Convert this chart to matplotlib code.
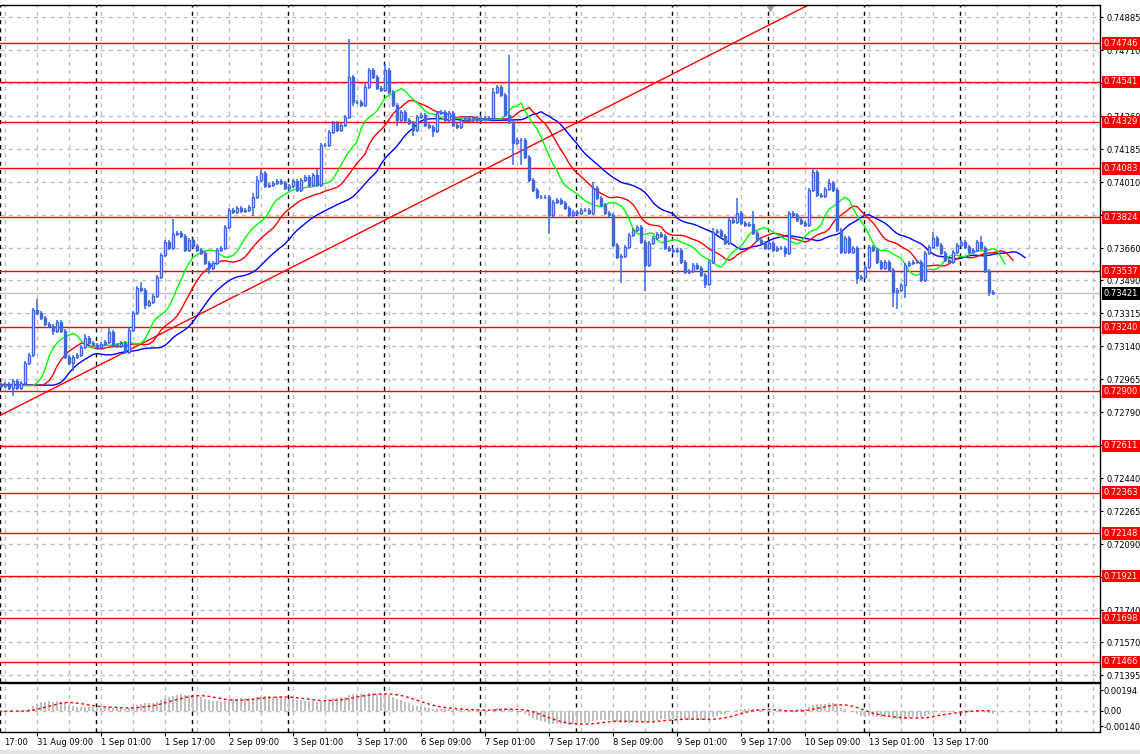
import matplotlib
matplotlib.use("Agg")
import matplotlib.pyplot as plt
import matplotlib.transforms as mtransforms
import numpy as np
import pandas as pd

plt.rcParams['font.family'] = ['DejaVu Sans']

# ---- data (H1 bars, 31 Aug 00:00 .. 14 Sep 08:00) ----
pre_close = [0.72940, 0.72935, 0.72930, 0.72925, 0.72930, 0.72935,
             0.72930, 0.72925, 0.72930, 0.72935, 0.72930, 0.72932]
first_open = 0.72935

close = [
    0.72929, 0.72940, 0.72918, 0.72955, 0.72918, 0.72945, 0.73051, 0.73093, 0.73332, 0.73316, 0.73290, 0.73258,
    0.73247, 0.73221, 0.73269, 0.73221, 0.73083, 0.73051, 0.73083, 0.73093, 0.73136, 0.73184, 0.73157, 0.73146,
    0.73136, 0.73152, 0.73162, 0.73215, 0.73146, 0.73141, 0.73157, 0.73109, 0.73226, 0.73316, 0.73449, 0.73438,
    0.73359, 0.73374, 0.73406, 0.73507, 0.73624, 0.73693, 0.73661, 0.73735, 0.73740, 0.73724, 0.73650, 0.73703,
    0.73671, 0.73650, 0.73634, 0.73581, 0.73555, 0.73581, 0.73650, 0.73661, 0.73772, 0.73862, 0.73851, 0.73873,
    0.73857, 0.73862, 0.73878, 0.73931, 0.74021, 0.74058, 0.73989, 0.73995, 0.74005, 0.74016, 0.74005, 0.73979,
    0.73989, 0.74016, 0.73968, 0.74021, 0.74037, 0.73995, 0.74048, 0.73995, 0.74207, 0.74207, 0.74276, 0.74324,
    0.74286, 0.74313, 0.74355, 0.74567, 0.74435, 0.74435, 0.74419, 0.74514, 0.74604, 0.74567, 0.74509, 0.74498,
    0.74604, 0.74488, 0.74419, 0.74339, 0.74382, 0.74339, 0.74324, 0.74286, 0.74355, 0.74366, 0.74313, 0.74302,
    0.74281, 0.74376, 0.74382, 0.74339, 0.74376, 0.74313, 0.74302, 0.74339, 0.74350, 0.74339, 0.74350, 0.74339,
    0.74350, 0.74345, 0.74350, 0.74488, 0.74514, 0.74472, 0.74366, 0.74329, 0.74218, 0.74233, 0.74233, 0.74143,
    0.74021, 0.73968, 0.73931, 0.73931, 0.73931, 0.73836, 0.73904, 0.73915, 0.73899, 0.73873, 0.73836, 0.73851,
    0.73846, 0.73862, 0.73862, 0.73846, 0.73979, 0.73926, 0.73889, 0.73846, 0.73836, 0.73677, 0.73613, 0.73618,
    0.73666, 0.73730, 0.73756, 0.73772, 0.73693, 0.73571, 0.73687, 0.73714, 0.73735, 0.73724, 0.73661, 0.73650,
    0.73645, 0.73650, 0.73587, 0.73534, 0.73539, 0.73571, 0.73555, 0.73518, 0.73470, 0.73587, 0.73746, 0.73751,
    0.73724, 0.73687, 0.73809, 0.73799, 0.73846, 0.73793, 0.73783, 0.73788, 0.73740, 0.73703, 0.73687, 0.73661,
    0.73687, 0.73650, 0.73661, 0.73661, 0.73634, 0.73846, 0.73836, 0.73809, 0.73793, 0.73783, 0.73968, 0.74064,
    0.73942, 0.73936, 0.73974, 0.74005, 0.73968, 0.73756, 0.73640, 0.73714, 0.73640, 0.73661, 0.73502, 0.73507,
    0.73560, 0.73666, 0.73650, 0.73587, 0.73555, 0.73587, 0.73544, 0.73427, 0.73438, 0.73465, 0.73571, 0.73581,
    0.73587, 0.73587, 0.73491, 0.73634, 0.73666, 0.73714, 0.73677, 0.73634, 0.73597, 0.73587, 0.73640, 0.73677,
    0.73693, 0.73666, 0.73640, 0.73650, 0.73693, 0.73661, 0.73539, 0.73427, 0.73421,
]

# wick lengths above / below the body, in pips
wick_up = [
    1, 1, 1, 1, 1, 1, 1, 1, 1, 6, 1, 1,
    1, 1, 1, 1, 1, 1, 1, 1, 1, 2, 1, 1,
    1, 1, 1, 2, 1, 1, 1, 1, 1, 1, 1, 3,
    1, 1, 1, 1, 1, 1, 1, 8, 1, 1, 1, 1,
    1, 1, 1, 1, 1, 1, 1, 1, 1, 1, 1, 1,
    1, 1, 1, 2, 2, 2, 1, 1, 1, 1, 1, 1,
    1, 1, 1, 1, 1, 1, 1, 3, 1, 1, 1, 1,
    1, 1, 1, 20, 1, 1, 1, 2, 1, 1, 1, 1,
    3, 1, 1, 1, 1, 1, 1, 1, 1, 1, 1, 1,
    1, 1, 1, 1, 1, 1, 1, 1, 1, 1, 1, 1,
    1, 1, 1, 2, 1, 1, 1, 32, 1, 1, 1, 1,
    1, 1, 1, 1, 1, 1, 1, 1, 1, 1, 1, 1,
    1, 1, 1, 1, 3, 1, 1, 1, 1, 1, 1, 1,
    1, 1, 1, 1, 1, 1, 1, 1, 1, 1, 1, 1,
    1, 1, 1, 1, 1, 1, 1, 1, 1, 1, 2, 1,
    1, 1, 1, 1, 8, 1, 1, 1, 7, 1, 1, 1,
    1, 1, 1, 1, 1, 1, 1, 1, 1, 1, 1, 2,
    1, 1, 1, 2, 1, 1, 1, 1, 1, 1, 1, 1,
    1, 1, 1, 1, 1, 1, 1, 1, 1, 1, 1, 1,
    1, 1, 1, 1, 1, 3, 1, 1, 1, 1, 1, 1,
    1, 1, 1, 1, 1, 3, 1, 1, 1,
]
wick_dn = [
    1, 1, 1, 4, 1, 1, 1, 1, 1, 1, 1, 1,
    1, 2, 1, 1, 1, 1, 4, 1, 1, 1, 1, 1,
    1, 1, 1, 1, 1, 1, 1, 1, 1, 1, 1, 1,
    2, 1, 1, 1, 1, 1, 1, 1, 1, 1, 1, 1,
    1, 1, 1, 1, 3, 1, 1, 1, 1, 1, 1, 1,
    1, 1, 1, 5, 1, 1, 1, 1, 1, 1, 1, 1,
    1, 1, 1, 1, 1, 1, 1, 1, 1, 1, 1, 1,
    1, 1, 1, 1, 2, 1, 1, 1, 1, 1, 1, 1,
    1, 1, 1, 3, 1, 1, 1, 3, 1, 1, 1, 1,
    3, 1, 1, 1, 1, 1, 1, 1, 1, 1, 1, 1,
    1, 1, 1, 1, 1, 1, 1, 1, 12, 1, 13, 1,
    1, 1, 1, 1, 1, 10, 1, 1, 1, 1, 1, 1,
    1, 1, 1, 1, 1, 1, 1, 1, 1, 1, 1, 14,
    1, 1, 1, 1, 1, 14, 1, 1, 1, 1, 1, 1,
    1, 1, 1, 1, 1, 1, 1, 1, 2, 1, 1, 1,
    1, 1, 1, 1, 1, 1, 1, 1, 1, 1, 1, 1,
    1, 1, 1, 1, 2, 1, 1, 1, 1, 1, 1, 1,
    1, 1, 1, 1, 1, 1, 1, 1, 1, 1, 3, 1,
    1, 1, 1, 1, 1, 1, 1, 8, 9, 1, 7, 1,
    1, 1, 1, 1, 1, 1, 1, 1, 1, 1, 1, 1,
    1, 1, 1, 1, 1, 1, 1, 2, 1,
]

levels = [0.74746, 0.74541, 0.74329, 0.74083, 0.73824, 0.73537, 0.73240,
          0.72900, 0.72611, 0.72363, 0.72148, 0.71921, 0.71698, 0.71466]
price_ticks = [0.74885, 0.74710, 0.74535, 0.74360, 0.74185, 0.74010, 0.73835,
               0.73660, 0.73490, 0.73315, 0.73140, 0.72965, 0.72790, 0.72615,
               0.72440, 0.72265, 0.72090, 0.71915, 0.71740, 0.71570, 0.71395]
# tick labels that sit fully under a level box are left blank
hidden_ticks = [0.74535, 0.73835, 0.72615, 0.71915]
trend_bars = [0, 200]
trend_prices = [0.72775, 0.74929]
macd_ticks = [0.00194, 0.0, -0.00140]
macd_labels = ["0.00194", "0.00", "-0.00140"]

# ---- derived series ----
c = np.array(close)
o = np.concatenate([[first_open], c[:-1]])
hi = np.maximum(o, c) + np.array(wick_up) * 0.0001
lo = np.minimum(o, c) - np.array(wick_dn) * 0.0001
x = np.arange(len(c))
npre = len(pre_close)
x_all = np.arange(-npre, len(c))

median = pd.Series(np.concatenate([pre_close, (hi + lo) / 2]))
closes_all = pd.Series(np.concatenate([pre_close, c]))

def smma(s, n):
    return s.ewm(alpha=1.0 / n, adjust=False).mean()

jaw = smma(median, 13)
teeth = smma(median, 8)
lips = smma(median, 5)

macd = closes_all.ewm(span=12, adjust=False).mean() - closes_all.ewm(span=26, adjust=False).mean()
signal = macd.rolling(9, min_periods=1).mean()

# bar times
hours = pd.date_range("2021-08-30 00:00", periods=24 * 21, freq="h")
hours = hours[hours.weekday < 5]
pos0 = int(np.where(hours == pd.Timestamp("2021-08-31 00:00"))[0][0])
bar_time = {i - pos0: t for i, t in enumerate(hours)}

# ---- figure ----
W, H = 1140, 754
fig = plt.figure(figsize=(W / 100, H / 100), dpi=100)
fig.patch.set_facecolor('white')

def box(x0, y0, x1, y1):
    return [x0 / W, 1 - y1 / H, (x1 - x0) / W, (y1 - y0) / H]

ax = fig.add_axes(box(0, 5, 1100, 681.5))
axm = fig.add_axes(box(0, 683, 1100, 731.5), sharex=ax)

xlim = (-0.25, 274.75)
ax.set_xlim(*xlim)
ax.set_ylim(0.71362, 0.74949)
axm.set_ylim(-0.00191, 0.00259)

grid_c = '#C0C0C0'
dash = (0, (3, 3))
grid_bars = [b for b in range(1, 280, 8) if b < xlim[1]]
sep_bars = [b for b, t in bar_time.items() if t.hour == 0 and xlim[0] <= b <= xlim[1]]
for a in (ax, axm):
    for b in grid_bars:
        a.axvline(b, color=grid_c, lw=1, ls=dash, zorder=0)
    for b in sep_bars:
        a.axvline(b - 0.2, color='black', lw=1, ls=dash, zorder=0.5)
    for s in a.spines.values():
        s.set_color('black')
        s.set_linewidth(1)
    a.spines['left'].set_visible(False)

for p in price_ticks:
    ax.axhline(p, color=grid_c, lw=1, ls=dash, zorder=0)
axm.axhline(0, color=grid_c, lw=1, ls=dash, zorder=0)

# support / resistance levels and trend line
for lv in levels:
    ax.axhline(lv, color='#FF0000', lw=1, zorder=1)
ax.axline((trend_bars[0], trend_prices[0]), (trend_bars[1], trend_prices[1]),
          color='#FF0000', lw=1, zorder=1)
ax.axhline(c[-1], color='#C0C0C0', lw=1, zorder=1)

# alligator
ax.plot(x_all + 8, jaw, color='#0000FF', lw=1, zorder=2)
ax.plot(x_all + 5, teeth, color='#FF0000', lw=1, zorder=2)
ax.plot(x_all + 3, lips, color='#00FF00', lw=1, zorder=2)

# candles
cblue = '#3F67DE'
ax.vlines(x, lo, hi, color=cblue, lw=1.1, zorder=3)
up = c >= o
ax.bar(x, c - o, bottom=o, width=0.72,
       color=np.where(up, 'white', cblue), edgecolor=cblue, linewidth=1.0, zorder=4)

# MACD
axm.bar(x_all, macd, width=0.35, color='#C0C0C0', zorder=2)
axm.plot(x_all, signal, color='#FF0000', lw=1, ls=(0, (2, 2)), zorder=3)

# right axis
fs = 6
ax.yaxis.tick_right()
ax.set_yticks(price_ticks)
ax.set_yticklabels(["" if p in hidden_ticks else f"{p:.5f}" for p in price_ticks])
ax.tick_params(axis='y', length=2, pad=2.5, labelsize=fs, colors='black')
ax.tick_params(axis='x', bottom=False, labelbottom=False)

axm.yaxis.tick_right()
axm.set_yticks(macd_ticks)
axm.set_yticklabels(macd_labels)
axm.tick_params(axis='y', length=2, pad=0.8, labelsize=fs)

label_bars = list(range(9, 234, 16))
axm.set_xticks(label_bars)
axm.set_xticklabels([f"{bar_time[b].day} {bar_time[b]:%b %H:%M}" for b in label_bars],
                    ha='left')
axm.tick_params(axis='x', length=3, pad=2, labelsize=fs)
axm.text(4 / 1100, -0.142, f"{bar_time[-7]:%H:%M}", transform=axm.transAxes,
         ha='left', va='top', fontsize=fs, clip_on=False)

# price labels in boxes
trans = mtransforms.blended_transform_factory(ax.transAxes, ax.transData)
for lv in levels:
    ax.text(1.0032, lv, f"{lv:.5f}", transform=trans, ha='left', va='center',
            color='white', fontsize=fs, zorder=10,
            bbox=dict(boxstyle='square,pad=0.22', fc='#FF0000', ec='none'))
ax.text(1.0032, c[-1], f"{c[-1]:.5f}", transform=trans, ha='left', va='center',
        color='white', fontsize=fs, zorder=10,
        bbox=dict(boxstyle='square,pad=0.22', fc='black', ec='none'))

# chart shift marker
ax.plot([770 / 1100], [0.995], marker='v', color='#A0A0A0', ms=4,
        transform=ax.transAxes, clip_on=False)

fig.patches.append(plt.Rectangle((0, 0), 1, 4 / H, transform=fig.transFigure,
                                 color='#E4E4E4', zorder=-1))

fig.savefig("out.png", dpi=100)
